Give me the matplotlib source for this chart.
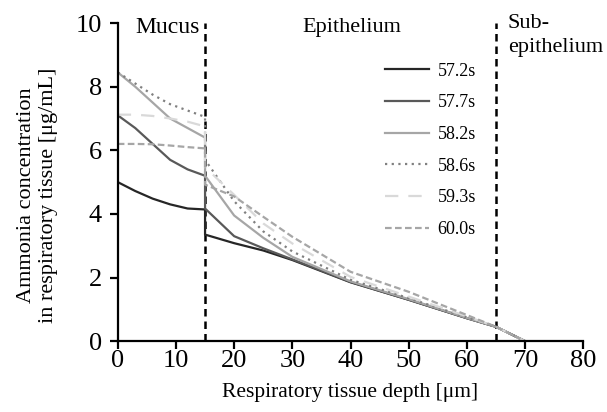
import matplotlib
matplotlib.use("Agg")
import matplotlib.pyplot as plt

plt.rcParams['font.family'] = ['Liberation Serif', 'DejaVu Serif']

depth = [0, 3, 6, 9, 12, 15, 15, 20, 25, 30, 40, 50, 60, 65, 70, 80]
labels = ["57.2s", "57.7s", "58.2s", "58.6s", "59.3s", "60.0s"]
s572 = [5.0, 4.72, 4.48, 4.3, 4.17, 4.14, 3.35, 3.08, 2.85, 2.55, 1.85, 1.3, 0.72, 0.45, 0, 0]
s577 = [7.1, 6.7, 6.2, 5.7, 5.4, 5.2, 4.17, 3.3, 2.92, 2.57, 1.86, 1.3, 0.72, 0.45, 0, 0]
s582 = [8.45, 8.0, 7.5, 7.0, 6.7, 6.4, 5.2, 3.95, 3.25, 2.65, 1.88, 1.32, 0.73, 0.45, 0, 0]
s586 = [8.45, 8.1, 7.75, 7.45, 7.25, 7.05, 5.7, 4.4, 3.45, 2.82, 1.93, 1.35, 0.75, 0.45, 0, 0]
s593 = [7.12, 7.12, 7.08, 7.0, 6.9, 6.75, 5.47, 4.6, 3.7, 3.07, 2.02, 1.4, 0.78, 0.45, 0, 0]
s600 = [6.2, 6.2, 6.19, 6.15, 6.1, 6.06, 4.92, 4.55, 3.91, 3.28, 2.18, 1.55, 0.82, 0.45, 0, 0]
series = [s572, s577, s582, s586, s593, s600]
boundaries = [15, 65]
regions = ["Mucus", "Epithelium", "Sub-\nepithelium"]

styles = [
    dict(color="#262626", linestyle="-"),
    dict(color="#595959", linestyle="-"),
    dict(color="#a6a6a6", linestyle="-"),
    dict(color="#808080", linestyle=(0, (1, 2))),
    dict(color="#d9d9d9", linestyle=(0, (6, 4.5))),
    dict(color="#a6a6a6", linestyle=(0, (3, 1.5))),
]

fig = plt.figure(figsize=(6.07, 4.12), dpi=100)
ax = fig.add_axes([0.194, 0.172, 0.767, 0.772])

for b in boundaries:
    ax.plot([b, b], [0, 10], color="black", linewidth=1.8, linestyle=(0, (3, 2)), zorder=1)

for ys, lab, st in zip(series, labels, styles):
    ax.plot(depth, ys, linewidth=1.6, label=lab, zorder=2, **st)

ax.set_xlim(0, 80)
ax.set_ylim(0, 10)
ax.set_xticks(range(0, 81, 10))
ax.set_yticks(range(0, 11, 2))
for side in ["top", "right"]:
    ax.spines[side].set_visible(False)
for side in ["left", "bottom"]:
    ax.spines[side].set_linewidth(1.6)
ax.spines["left"].set_bounds(0, 10)
ax.tick_params(axis="both", direction="out", length=5.5, width=1.6, labelsize=19)
ax.tick_params(axis="x", pad=1)
ax.tick_params(axis="y", pad=6)

ax.set_xlabel("Respiratory tissue depth [μm]", fontsize=15.5, labelpad=8)
ax.set_ylabel("Ammonia concentration\nin respiratory tissue [μg/mL]", fontsize=16,
              linespacing=1.2)
ax.yaxis.set_label_coords(-0.128, 0.46)

ax.text(3.0, 9.85, regions[0], fontsize=17, ha="left", va="center")
ax.text(31.7, 9.85, regions[1], fontsize=16, ha="left", va="center")
ax.text(67.0, 10.27, regions[2], fontsize=16, ha="left", va="top", linespacing=1.3)

leg = ax.legend(loc="upper left", bbox_to_anchor=(0.559, 0.898), frameon=False,
                fontsize=13, handlelength=2.4, handletextpad=0.5, labelspacing=0.81,
                borderaxespad=0)

fig.savefig("out.png", dpi=100)
